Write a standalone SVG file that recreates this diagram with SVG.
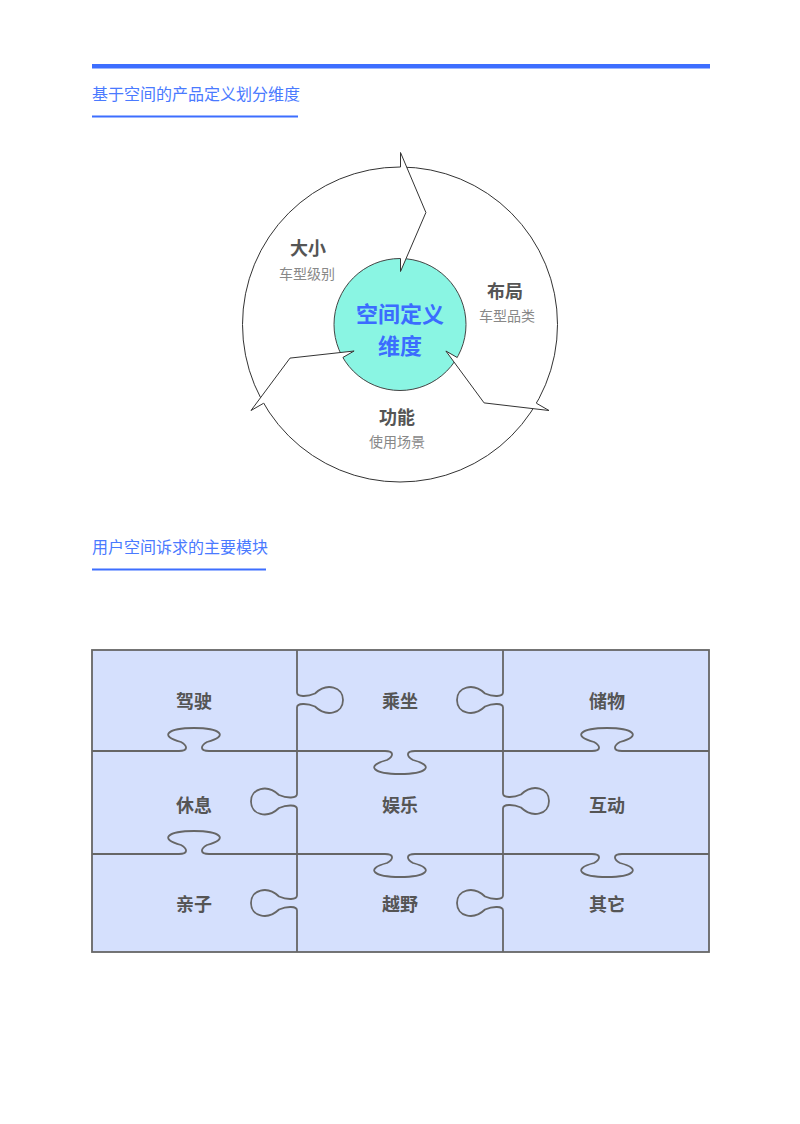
<svg xmlns="http://www.w3.org/2000/svg" width="800" height="1124" viewBox="0 0 800 1124">
<style>
text{font-family:"Noto Sans CJK SC","Noto Sans",sans-serif;}
.hdr{font-size:16px;fill:#4a7aff;}
.hline{stroke:#3d6eff;stroke-width:2;}
.title{font-size:18px;font-weight:700;fill:#555;text-anchor:middle;}
.sub{font-size:14px;fill:#888;text-anchor:middle;}
.center{font-size:22px;font-weight:700;fill:#3b6cff;text-anchor:middle;}
.head{fill:#fff;stroke:none;}
.cut{fill:none;stroke:#333;stroke-width:1;stroke-linejoin:miter;}
.piece{font-size:18px;font-weight:700;fill:#555;text-anchor:middle;}
.grid{fill:none;stroke:#666;stroke-width:1.8;}
</style>
<rect x="92" y="64" width="618" height="4.5" fill="#3d6eff"/>
<g id="header1">
<text class="hdr" x="92" y="100">基于空间的产品定义划分维度</text>
<line class="hline" x1="92" y1="116.5" x2="298" y2="116.5"/>
</g>
<g id="cycle">
<circle id="outer" cx="400" cy="324.5" r="157.5" fill="#fff" stroke="#333" stroke-width="1"/>
<circle id="inner" cx="400" cy="324.5" r="66" fill="#8af5e3" stroke="#444" stroke-width="1"/>
<g id="connectors">
<polygon class="head" points="400.5,152.5 425.9,212.5 400.5,271.5"/>
<polyline class="cut" points="400.5,167 400.5,152.5 425.9,212.5 400.5,271.5 400.5,258.5"/>
<polygon class="head" points="549,410.5 484.1,402.9 445.9,351"/>
<polyline class="cut" points="536.4,403.25 549,410.5 484.1,402.9 445.9,351 457.2,357.5"/>
<polygon class="head" points="251,410.5 290,358.1 354.1,351"/>
<polyline class="cut" points="263.6,403.25 251,410.5 290,358.1 354.1,351 342.8,357.5"/>
</g>
<g id="node-center">
<text class="center" x="400" y="322">空间定义</text>
<text class="center" x="400" y="354">维度</text>
</g>
<g id="node-size">
<text class="title" x="308" y="255">大小</text>
<text class="sub" x="307" y="279">车型级别</text>
</g>
<g id="node-layout">
<text class="title" x="505" y="298">布局</text>
<text class="sub" x="507" y="321">车型品类</text>
</g>
<g id="node-function">
<text class="title" x="397" y="424">功能</text>
<text class="sub" x="397" y="447">使用场景</text>
</g>
</g>
<g id="header2">
<text class="hdr" x="92" y="553">用户空间诉求的主要模块</text>
<line class="hline" x1="92" y1="569.5" x2="266" y2="569.5"/>
</g>
<g id="puzzle">
<rect x="92" y="650" width="617" height="302" fill="#d5e0fd" stroke="#666" stroke-width="1.8"/>
<path class="grid" d="M92,751 L179,751 C188,751 188,746 181,742 C158,736 168,728 194,728 C220,728 230,736 207,742 C200,746 200,751 209,751 L385,751 C394,751 394,756 387,760 C364,766 374,774 400,774 C426,774 436,766 413,760 C406,756 406,751 415,751 L592,751 C601,751 601,746 594,742 C571,736 581,728 607,728 C633,728 643,736 620,742 C613,746 613,751 622,751 L709,751"/>
<path class="grid" d="M92,854 L179,854 C188,854 188,849 181,845 C158,839 168,831 194,831 C220,831 230,839 207,845 C200,849 200,854 209,854 L385,854 C394,854 394,859 387,863 C364,869 374,877 400,877 C426,877 436,869 413,863 C406,859 406,854 415,854 L592,854 C601,854 601,859 594,863 C571,869 581,877 607,877 C633,877 643,869 620,863 C613,859 613,854 622,854 L709,854"/>
<path class="grid" d="M297,650 L297,692.5 C297,697 307,697 315,693.5 C327,682 343,687 343,700 C343,713 327,718 315,706.5 C307,703 297,703 297,707.5 L297,794 C297,798.5 287,798.5 279,795 C267,783.5 251,788.5 251,801.5 C251,814.5 267,819.5 279,808 C287,804.5 297,804.5 297,809 L297,895.5 C297,900 287,900 279,896.5 C267,885 251,890 251,903 C251,916 267,921 279,909.5 C287,906 297,906 297,910.5 L297,952"/>
<path class="grid" d="M503,650 L503,692.5 C503,697 493,697 485,693.5 C473,682 457,687 457,700 C457,713 473,718 485,706.5 C493,703 503,703 503,707.5 L503,793.5 C503,798 513,798 521,794.5 C533,783 549,788 549,801 C549,814 533,819 521,807.5 C513,804 503,804 503,808.5 L503,895.5 C503,900 493,900 485,896.5 C473,885 457,890 457,903 C457,916 473,921 485,909.5 C493,906 503,906 503,910.5 L503,952"/>
<g id="p-drive"><text class="piece" x="194" y="708">驾驶</text></g>
<g id="p-ride"><text class="piece" x="400" y="708">乘坐</text></g>
<g id="p-storage"><text class="piece" x="607" y="708">储物</text></g>
<g id="p-rest"><text class="piece" x="194" y="812">休息</text></g>
<g id="p-fun"><text class="piece" x="400" y="812">娱乐</text></g>
<g id="p-interact"><text class="piece" x="607" y="812">互动</text></g>
<g id="p-family"><text class="piece" x="194" y="911">亲子</text></g>
<g id="p-offroad"><text class="piece" x="400" y="911">越野</text></g>
<g id="p-other"><text class="piece" x="607" y="911">其它</text></g>
</g>
</svg>
